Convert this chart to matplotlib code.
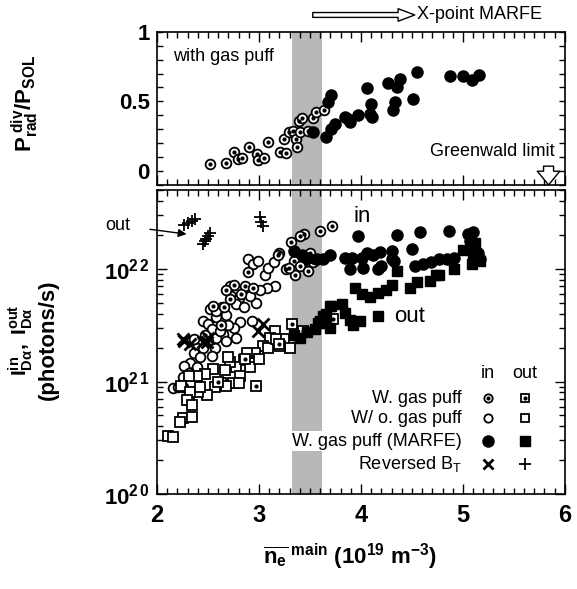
import numpy as np
import matplotlib as mpl
mpl.use('Agg')
import matplotlib.pyplot as plt
from matplotlib.ticker import MultipleLocator, FixedLocator, FixedFormatter, NullFormatter

mpl.rcParams['font.family'] = 'Liberation Sans'
mpl.rcParams['mathtext.fontset'] = 'custom'
mpl.rcParams['mathtext.rm'] = 'Liberation Sans'
mpl.rcParams['mathtext.bf'] = 'Liberation Sans:bold'
mpl.rcParams['mathtext.it'] = 'Liberation Sans:italic'

# ---- top panel: P_rad^div / P_SOL (with gas puff) ----
top_dot_x = [2.52, 2.68, 2.76, 2.79, 2.83, 2.90, 2.98, 2.99, 3.05, 3.09, 3.21, 3.27,
             3.25, 3.29, 3.33, 3.36, 3.37, 3.40, 3.39, 3.42, 3.48, 3.53, 3.56, 3.64]
top_dot_y = [0.049, 0.060, 0.140, 0.085, 0.092, 0.169, 0.125, 0.078, 0.096, 0.205, 0.140, 0.133,
             0.230, 0.278, 0.290, 0.230, 0.169, 0.278, 0.362, 0.382, 0.290, 0.382, 0.422, 0.435]
top_fill_x = [3.53, 3.66, 3.71, 3.75, 3.68, 3.71, 3.84, 3.87, 3.89, 3.97, 4.06, 4.10, 4.09,
              4.11, 4.27, 4.35, 4.38, 4.33, 4.31, 4.51, 4.55, 4.87, 5.00, 5.09, 5.16]
top_fill_y = [0.278, 0.246, 0.302, 0.338, 0.495, 0.543, 0.386, 0.374, 0.350, 0.399, 0.596, 0.483, 0.411,
              0.386, 0.629, 0.600, 0.659, 0.495, 0.440, 0.520, 0.712, 0.681, 0.681, 0.657, 0.688]

# ---- bottom panel: I_Dalpha (units of 1e21 photons/s) ----
gas_in_x = [3.72, 3.60, 3.44, 3.40, 3.31, 3.20, 3.50, 3.34, 3.46, 3.35, 3.27, 3.53, 3.55, 3.40,
            3.29, 3.48, 2.89, 3.19, 2.76, 2.86, 2.94, 2.82, 2.66, 2.72, 2.55, 2.63, 2.47, 2.68]
gas_in_y = [24.0, 21.9, 20.4, 19.5, 17.4, 13.8, 13.8, 11.7, 11.0, 8.91, 10.0, 11.5, 12.3, 10.7,
            10.2, 9.55, 9.33, 13.2, 7.24, 7.08, 6.76, 6.03, 4.57, 5.37, 4.68, 3.16, 2.57, 6.46]
nogas_in_x = [2.89, 2.94, 2.99, 3.06, 3.09, 3.15, 3.16, 3.08, 3.01, 2.97, 2.91, 2.73, 2.80, 2.64,
              2.68, 2.58, 2.45, 2.50, 2.54, 2.81, 2.76, 2.65, 2.58, 2.50, 2.42, 2.39, 2.45, 2.36,
              2.42, 2.32, 2.27, 2.39, 2.31, 2.26, 2.16, 2.21, 2.26, 2.52, 2.58, 2.78, 2.85, 2.72,
              2.93, 2.78, 2.68, 2.57, 2.54, 2.36, 2.62, 2.70]
nogas_in_y = [12.3, 11.0, 11.7, 8.91, 10.2, 11.5, 7.08, 6.76, 6.46, 5.01, 5.75, 5.75, 5.50, 4.57,
              3.89, 3.72, 3.47, 3.24, 2.95, 3.39, 3.02, 2.63, 2.45, 2.29, 2.24, 2.00, 2.00, 1.78,
              1.66, 1.45, 1.38, 1.35, 1.20, 1.10, 0.87, 0.89, 0.89, 4.37, 4.27, 4.90, 4.57, 7.08,
              3.47, 2.45, 2.29, 2.00, 1.70, 2.40, 2.82, 3.16]
marfe_in_x = [3.97, 4.35, 4.58, 4.86, 5.05, 5.10, 5.07, 3.84, 3.91, 4.01, 4.12, 4.19, 4.30, 4.30,
              4.50, 3.89, 4.02, 4.17, 4.20, 4.53, 4.61, 4.69, 4.77, 4.84, 4.91, 5.15, 5.17, 3.70,
              3.63, 3.57, 3.34, 3.42, 3.48, 4.32, 4.06]
marfe_in_y = [19.5, 20.0, 21.4, 21.9, 20.4, 21.4, 17.8, 12.6, 12.6, 12.6, 13.2, 14.1, 14.5, 12.3,
              15.1, 10.0, 10.2, 10.0, 10.7, 10.7, 11.0, 11.5, 12.3, 12.3, 12.6, 13.8, 12.3, 13.2,
              12.3, 12.3, 14.5, 13.2, 12.6, 11.7, 13.8]
rev_in_x = [2.26, 2.27, 2.32, 2.45, 2.49, 2.50, 2.99, 3.04]
rev_in_y = [2.40, 2.29, 2.14, 2.24, 2.24, 2.45, 2.82, 3.24]

gas_out_x = [3.32, 3.43, 3.73, 2.97, 3.20, 2.86, 2.60]
gas_out_y = [3.24, 2.82, 3.63, 0.91, 2.14, 1.58, 1.00]
nogas_out_x = [3.16, 3.11, 3.04, 2.96, 2.88, 2.85, 2.78, 2.81, 2.72, 2.67, 2.63, 2.55, 2.47, 2.39,
               2.31, 2.57, 2.49, 2.40, 2.31, 2.24, 3.25, 3.30, 3.21, 3.09, 3.17, 2.91, 2.75, 2.32,
               2.42, 2.29, 2.34, 2.26, 2.23, 2.34, 2.11, 2.16, 2.68, 2.80, 3.00, 2.70]
nogas_out_y = [2.82, 2.45, 2.09, 1.78, 1.78, 1.55, 1.35, 1.12, 1.48, 1.26, 0.98, 1.29, 1.17, 1.12,
               1.12, 0.89, 0.76, 0.81, 0.68, 0.91, 2.40, 2.00, 2.09, 2.00, 2.40, 1.35, 0.98, 0.81,
               0.89, 0.68, 0.62, 0.47, 0.44, 0.48, 0.33, 0.32, 0.91, 0.98, 1.58, 1.66]
marfe_out_x = [3.94, 4.01, 4.09, 4.17, 4.25, 4.30, 4.35, 4.48, 4.55, 4.68, 4.74, 3.70, 3.81, 3.84,
               3.89, 3.99, 3.92, 3.63, 3.58, 3.66, 3.55, 4.17, 5.00, 5.10, 5.17, 5.09, 4.91, 4.77,
               5.12, 3.60, 3.66, 3.71, 3.70, 3.34, 3.40, 3.47]
marfe_out_y = [6.76, 6.03, 5.62, 6.17, 6.46, 7.24, 9.55, 6.76, 7.59, 7.76, 8.91, 4.68, 4.90, 4.07,
               3.55, 3.47, 3.16, 3.80, 3.31, 3.31, 2.95, 3.80, 14.8, 13.8, 11.7, 11.0, 10.0, 8.91,
               17.0, 3.47, 3.98, 4.68, 3.02, 2.57, 2.45, 2.75]
rev_out_x = [2.27, 2.30, 2.34, 2.37, 2.45, 2.47, 2.48, 2.50, 2.52, 3.01, 3.02, 3.04]
rev_out_y = [24.5, 25.7, 26.9, 27.5, 16.6, 17.8, 18.6, 19.5, 20.9, 28.8, 26.3, 24.0]

band = (3.32, 3.62)
scale = 1e21

fig = plt.figure(figsize=(5.77, 5.89), dpi=100)
ax1 = fig.add_axes([0.272, 0.686, 0.707, 0.260])
ax2 = fig.add_axes([0.272, 0.161, 0.707, 0.516])

def open_marker(ax, x, y, m, ms=7, **kw):
    ax.plot(x, y, m, ms=ms, mfc='white', mec='k', mew=1.3, ls='none', **kw)

def dotted_marker(ax, x, y, m, ms=7, **kw):
    open_marker(ax, x, y, m, ms=ms, **kw)
    ax.plot(x, y, 'o', ms=2.0, color='k', ls='none', **kw)

for ax in (ax1, ax2):
    ax.axvspan(band[0], band[1], color='#b8b8b8', lw=0, zorder=0)
    ax.set_xlim(2, 6)
    ax.xaxis.set_major_locator(MultipleLocator(1))
    ax.xaxis.set_minor_locator(MultipleLocator(0.1))
    ax.tick_params(which='both', direction='in', top=True, right=True, width=1)
    ax.tick_params(which='major', length=7)
    ax.tick_params(which='minor', length=4)
    for s in ax.spines.values():
        s.set_linewidth(1.2)

# top panel
dotted_marker(ax1, top_dot_x, top_dot_y, 'o')
ax1.plot(top_fill_x, top_fill_y, 'o', ms=8, color='k', ls='none')
ax1.set_ylim(-0.1, 1.0)
ax1.yaxis.set_major_locator(FixedLocator([0, 0.5, 1]))
ax1.yaxis.set_major_formatter(FixedFormatter(['0', '0.5', '1']))
ax1.yaxis.set_minor_locator(MultipleLocator(0.1))
ax1.tick_params(axis='x', labelbottom=False)
ax1.tick_params(axis='y', which='major', length=4, labelsize=16, pad=5)
for t in ax1.get_yticklabels():
    t.set_fontweight('bold')
ax1.text(0.04, 0.84, 'with gas puff', transform=ax1.transAxes, fontsize=13, va='center')
ax1.text(0.975, 0.22, 'Greenwald limit', transform=ax1.transAxes, fontsize=13,
         va='center', ha='right')
ax1.annotate('', xy=(5.84, -0.1), xytext=(5.84, 0.035),
             arrowprops=dict(arrowstyle='simple,head_width=0.9,head_length=0.55,tail_width=0.4',
                             mutation_scale=18, fc='white', ec='k', lw=1, shrinkA=0, shrinkB=0),
             annotation_clip=False)
ax1.annotate('', xy=(0.632, 1.11), xytext=(0.382, 1.11), xycoords='axes fraction',
             arrowprops=dict(arrowstyle='simple,head_width=0.9,head_length=1.2,tail_width=0.35',
                             fc='white', ec='k', lw=1, shrinkA=0, shrinkB=0),
             annotation_clip=False)
ax1.text(0.637, 1.11, 'X-point MARFE', transform=ax1.transAxes, fontsize=13,
         va='center', ha='left')

# bottom panel
ax2.set_yscale('log')
open_marker(ax2, nogas_in_x, np.array(nogas_in_y) * scale, 'o')
dotted_marker(ax2, gas_in_x, np.array(gas_in_y) * scale, 'o')
open_marker(ax2, nogas_out_x, np.array(nogas_out_y) * scale, 's', ms=6.5)
dotted_marker(ax2, gas_out_x, np.array(gas_out_y) * scale, 's', ms=6.5)
ax2.plot(marfe_in_x, np.array(marfe_in_y) * scale, 'o', ms=8, color='k', ls='none')
ax2.plot(marfe_out_x, np.array(marfe_out_y) * scale, 's', ms=7, color='k', ls='none')
ax2.plot(rev_in_x, np.array(rev_in_y) * scale, 'x', ms=8, mew=2, color='k', ls='none')
ax2.plot(rev_out_x, np.array(rev_out_y) * scale, '+', ms=8, mew=1.3, color='k', ls='none')
ax2.set_ylim(1e20, 5e22)
ax2.yaxis.set_major_locator(FixedLocator([1e20, 1e21, 1e22]))
ax2.yaxis.set_major_formatter(FixedFormatter([r'$\mathbf{10^{2\,0}}$', r'$\mathbf{10^{2\,1}}$',
                                              r'$\mathbf{10^{2\,2}}$']))
ax2.yaxis.set_minor_locator(FixedLocator([k * 10.0 ** e for e in (20, 21, 22) for k in range(2, 10)]))
ax2.yaxis.set_minor_formatter(NullFormatter())
ax2.tick_params(axis='y', which='major', labelsize=16, pad=5)
ax2.tick_params(axis='x', which='major', labelsize=17, pad=7)
for t in ax2.get_xticklabels():
    t.set_fontweight('bold')

ax2.text(4.01, 2.95e22, 'in', fontsize=16, ha='center', va='center')
ax2.text(4.48, 3.8e21, 'out', fontsize=16, ha='center', va='center')
ax2.annotate('out', xy=(2.29, 2.04e22), xytext=(1.62, 2.45e22), fontsize=13,
             ha='center', va='center', annotation_clip=False,
             arrowprops=dict(arrowstyle='-|>', color='k', lw=1, shrinkA=12, shrinkB=0,
                             mutation_scale=12))

# hand-made legend
tr = ax2.transAxes
ax2.text(0.811, 0.398, 'in', transform=tr, fontsize=13, ha='center', va='center')
ax2.text(0.902, 0.398, 'out', transform=tr, fontsize=13, ha='center', va='center')
rows = ['W. gas puff', 'W/ o. gas puff', 'W. gas puff (MARFE)', r'Reversed B$_\mathregular{T}$']
row_y = [0.316, 0.250, 0.174, 0.099]
for name, yy in zip(rows, row_y):
    ax2.text(0.748, yy, name, transform=tr, fontsize=13, ha='right', va='center',
             bbox=dict(fc='white', ec='none', pad=1))
kw = dict(transform=tr, clip_on=False)
dotted_marker(ax2, [0.811], [row_y[0]], 'o', ms=6, **kw)
dotted_marker(ax2, [0.902], [row_y[0]], 's', ms=6, **kw)
open_marker(ax2, [0.811], [row_y[1]], 'o', ms=6, **kw)
open_marker(ax2, [0.902], [row_y[1]], 's', ms=6, **kw)
ax2.plot([0.811], [row_y[2]], 'o', ms=8, color='k', **kw)
ax2.plot([0.902], [row_y[2]], 's', ms=7, color='k', **kw)
ax2.plot([0.811], [row_y[3]], 'x', ms=7, mew=2, color='k', **kw)
ax2.plot([0.902], [row_y[3]], '+', ms=8, mew=1.3, color='k', **kw)

# axis titles
fig.text(25 / 577, 1 - 103 / 589, r'$\mathbf{P_{rad}^{\ div}/P_{SOL}}$', rotation=90,
         fontsize=16, ha='center', va='center')
fig.text(21 / 577, 1 - 340 / 589, r'$\mathbf{I_{D\alpha}^{in},\ I_{D\alpha}^{out}}$', rotation=90,
         fontsize=15, ha='center', va='center')
fig.text(48 / 577, 1 - 340 / 589, '(photons/s)', rotation=90, fontweight='bold',
         fontsize=16, ha='center', va='center')
fig.text(350 / 577, 1 - 557 / 589, r'$\mathbf{\overline{n_e}^{\ main}\ (10^{19}\ m^{-3})}$',
         fontsize=16, ha='center', va='center')

fig.savefig('out.png', dpi=100)
